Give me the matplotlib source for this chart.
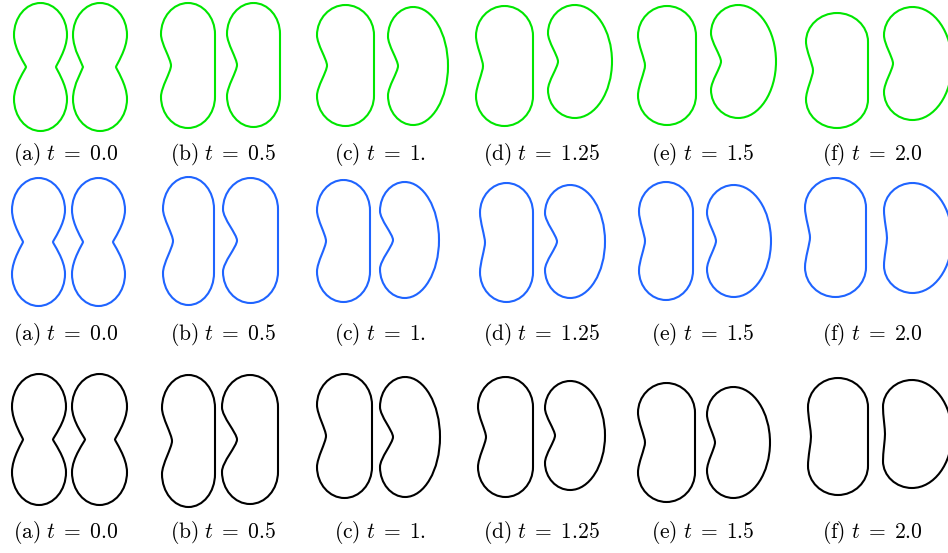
import matplotlib
matplotlib.use('Agg')
import matplotlib.pyplot as plt
from matplotlib.path import Path
from matplotlib.patches import PathPatch

plt.rcParams.update({
    'mathtext.fontset': 'cm',
    'figure.facecolor': 'white',
})

# captions per column
panels = ['a', 'b', 'c', 'd', 'e', 'f']
times = ['0.0', '0.5', '1.', '1.25', '1.5', '2.0']
row_colors = ['#00e600', '#1f64ff', '#000000']

# shape outlines, per row: [a-left, a-right, b-left, b-right, ..., f-left, f-right]
# panel-local units (px inside each panel box, y measured downward)
x_left = [
    [26, 85, 16, 82, 15, 86, 13, 85, 13, 86, 12, 90],
    [24, 84, 18, 78, 15, 78, 17, 82, 14, 82, 11, 90],
    [24, 84, 17, 77, 15, 78, 15, 82, 13, 82, 14, 89],
]
x_right = [
    [79, 139, 70, 135, 72, 146, 70, 149, 71, 151, 74, 158],
    [77, 137, 69, 133, 68, 137, 70, 142, 68, 146, 72, 158],
    [78, 139, 70, 133, 70, 138, 70, 142, 70, 145, 74, 158],
]
y_top = [
    [3, 3, 3, 3, 5, 7, 6, 5, 6, 5, 13, 7],
    [6, 6, 5, 6, 8, 10, 11, 13, 10, 13, 6, 11],
    [6, 6, 7, 7, 6, 9, 9, 13, 15, 19, 10, 12],
]
y_bottom = [
    [131, 131, 128, 127, 126, 125, 126, 118, 125, 118, 128, 120],
    [134, 134, 133, 131, 130, 126, 130, 126, 128, 125, 125, 121],
    [137, 137, 139, 136, 130, 129, 129, 122, 134, 130, 127, 120],
]
# inward dent of the left / right side (0 = flat, -1 = convex)
dent_left = [
    [12, 10, 10, 10, 10, 10, 7, 10, 7, 10, 7, 9],
    [11, 11, 10, 14, 9, 13, 5, 12, 6, 9, 5, 3],
    [11, 13, 10, 15, 9, 13, 8, 10, 7, 8, 3, 2],
]
dent_right = [
    [11, 11, 0, 0, 0, -1, 0, -1, 0, -1, 0, -1],
    [12, 12, 0, 0, 0, -1, 0, -1, 0, -1, 0, -1],
    [13, 12, 0, 0, 0, -1, 0, -1, 0, -1, 0, -1],
]

# layout in figure pixels
FIG_W, FIG_H = 948, 553
col_left = [-12, 145, 302, 463, 625, 794]
row_top = [0, 172, 368]
PANEL_W, PANEL_H = 156, 140
caption_y = [154, 163, 164]


def outline(x0, x1, yt, yb, dl, dr, k=0.55):
    h = yb - yt
    # waist is a sharp pinch for the peanut, a soft dent for the kidney
    peanut = dl > 0 and dr > 0
    s, m = (0.45, 0.05) if peanut else (0.3, 0.2)
    xc = x0 + (0.42 if dr < 0 else 0.5) * (x1 - x0)
    yu, ym, yl = yt + 0.25 * h, yt + 0.5 * h, yb - 0.25 * h
    v = [(xc, yt)]
    # right side, top -> bottom
    if dr < 0:
        v += [(xc + k * (x1 - xc), yt), (x1, ym - k * (ym - yt)), (x1, ym),
              (x1, ym + k * (yb - ym)), (xc + k * (x1 - xc), yb), (xc, yb)]
    else:
        xm = x1 - dr
        v += [(xc + k * (x1 - xc), yt), (x1, yu - k * (yu - yt)), (x1, yu),
              (x1, yu + s * (ym - yu)), (xm, ym - m * (ym - yu)), (xm, ym),
              (xm, ym + m * (yl - ym)), (x1, yl - s * (yl - ym)), (x1, yl),
              (x1, yl + k * (yb - yl)), (xc + k * (x1 - xc), yb), (xc, yb)]
    # left side, bottom -> top
    xm = x0 + dl
    v += [(xc - k * (xc - x0), yb), (x0, yl + k * (yb - yl)), (x0, yl),
          (x0, yl - s * (yl - ym)), (xm, ym + m * (yl - ym)), (xm, ym),
          (xm, ym - m * (ym - yu)), (x0, yu + s * (ym - yu)), (x0, yu),
          (x0, yu - k * (yu - yt)), (xc - k * (xc - x0), yt), (xc, yt)]
    codes = [Path.MOVETO] + [Path.CURVE4] * (len(v) - 1)
    return Path(v, codes)


fig = plt.figure(figsize=(FIG_W / 100, FIG_H / 100), dpi=100)

for r in range(3):
    for c in range(6):
        ax = fig.add_axes([col_left[c] / FIG_W,
                           1 - (row_top[r] + PANEL_H) / FIG_H,
                           PANEL_W / FIG_W, PANEL_H / FIG_H])
        ax.set_xlim(0, PANEL_W)
        ax.set_ylim(PANEL_H, 0)
        ax.axis('off')
        for j in (2 * c, 2 * c + 1):
            p = outline(x_left[r][j], x_right[r][j], y_top[r][j], y_bottom[r][j],
                        dent_left[r][j], dent_right[r][j])
            ax.add_patch(PathPatch(p, facecolor='none', edgecolor=row_colors[r],
                                   lw=1.5, clip_on=False))
        ax.text(PANEL_W / 2, caption_y[r],
                r'$\mathrm{(' + panels[c] + r')}\ t\;=\;' + times[c] + '$',
                ha='center', va='center', fontsize=15.5, clip_on=False)

fig.savefig('out.png', dpi=100)
